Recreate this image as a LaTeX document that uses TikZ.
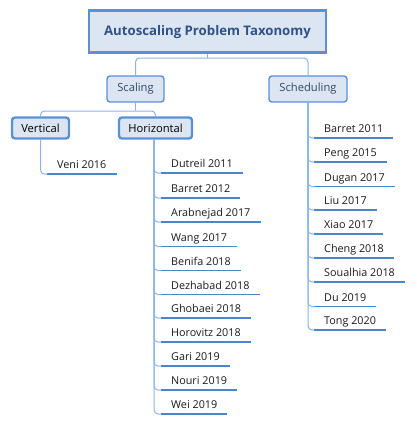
\documentclass[tikz,border=0pt]{standalone}
\usepackage{fontspec}
\setmainfont{Open Sans}
\usetikzlibrary{calc}
\definecolor{boxfill}{HTML}{DCE6F2}
\definecolor{boxline}{HTML}{5B8FD6}
\definecolor{conncol}{HTML}{8DB4E6}
\definecolor{ulcol}{HTML}{4A86D0}
\definecolor{titletext}{HTML}{2F5288}
\definecolor{boxtext}{HTML}{34466A}
\definecolor{itemtext}{HTML}{1A1A1A}
\tikzset{
  titlebox/.style={draw=boxline, fill=boxfill, line width=2.6pt, minimum width=237pt, minimum height=42pt, inner sep=0pt,
    font=\fontsize{13.2}{15}\selectfont\bfseries, text=titletext},
  catbox/.style={draw=boxline, fill=boxfill, line width=1.4pt, rounded corners=3pt, minimum height=26pt, inner sep=0pt,
    font=\fontsize{11.2}{13}\selectfont, text=boxtext},
  subbox/.style={draw=boxline, fill=boxfill, line width=2.4pt, rounded corners=3pt, minimum height=21pt, inner sep=0pt,
    font=\fontsize{11.2}{13}\selectfont, text=black},
  item/.style={anchor=south west, inner xsep=10pt, inner ysep=5pt, text height=8pt, text depth=0pt,
    font=\fontsize{10.8}{12}\selectfont, text=itemtext,
    append after command={(\tikzlastnode.south west) edge[uline] (\tikzlastnode.south east)}},
  uline/.style={draw=ulcol, line width=1.8pt},
  conn/.style={draw=conncol, line width=1pt, rounded corners=4pt},
}
\begin{document}
\begin{tikzpicture}[x=1pt,y=-1pt]
\useasboundingbox (0,0) rectangle (416,426);
\node[titlebox] (title) at (207.5,31.7) {Autoscaling Problem Taxonomy};
\node[catbox, minimum width=57pt] (scaling) at (135.5,89) {Scaling};
\node[catbox, minimum width=78pt] (sched) at (308,89) {Scheduling};
\node[subbox, minimum width=57pt] (vert) at (40.5,128) {Vertical};
\node[subbox, minimum width=73pt] (horiz) at (155.5,128) {Horizontal};
\coordinate (tj) at (207.5,58);
\coordinate (sj) at (135.5,111);
\draw[conn] (title.south) -- (tj);
\draw[conn] (tj) -| (scaling.north);
\draw[conn] (tj) -| (sched.north);
\draw[conn] (scaling.south) -- (sj);
\draw[conn] (sj) -| (vert.north);
\draw[conn] (sj) -| (horiz.north);
% Vertical
\node[item] (v1) at (47,174) {Veni 2016};
\draw[conn] (vert.south) |- (v1.south west);
% Horizontal
\node[item] (h1) at (161,173) {Dutreil 2011};
\node[item] (h2) at (161,198) {Barret 2012};
\node[item] (h3) at (161,222) {Arabnejad 2017};
\node[item] (h4) at (161,246.5) {Wang 2017};
\node[item] (h5) at (161,270.5) {Benifa 2018};
\node[item] (h6) at (161,294.5) {Dezhabad 2018};
\node[item] (h7) at (161,318) {Ghobaei 2018};
\node[item] (h8) at (161,342) {Horovitz 2018};
\node[item] (h9) at (161,366) {Gari 2019};
\node[item] (h10) at (161,390) {Nouri 2019};
\node[item] (h11) at (161,414) {Wei 2019};
\foreach \n in {h1,h2,h3,h4,h5,h6,h7,h8,h9,h10,h11}
  \draw[conn] ($(horiz.south)+(-1.5,0)$) |- (\n.south west);
% Scheduling
\node[item] (s1) at (314,138) {Barret 2011};
\node[item] (s2) at (314,162) {Peng 2015};
\node[item] (s3) at (314,186.5) {Dugan 2017};
\node[item] (s4) at (314,210) {Liu 2017};
\node[item] (s5) at (314,234) {Xiao 2017};
\node[item] (s6) at (314,258) {Cheng 2018};
\node[item] (s7) at (314,282) {Soualhia 2018};
\node[item] (s8) at (314,306.5) {Du 2019};
\node[item] (s9) at (314,330) {Tong 2020};
\foreach \n in {s1,s2,s3,s4,s5,s6,s7,s8,s9}
  \draw[conn] (sched.south) |- (\n.south west);
\end{tikzpicture}
\end{document}
